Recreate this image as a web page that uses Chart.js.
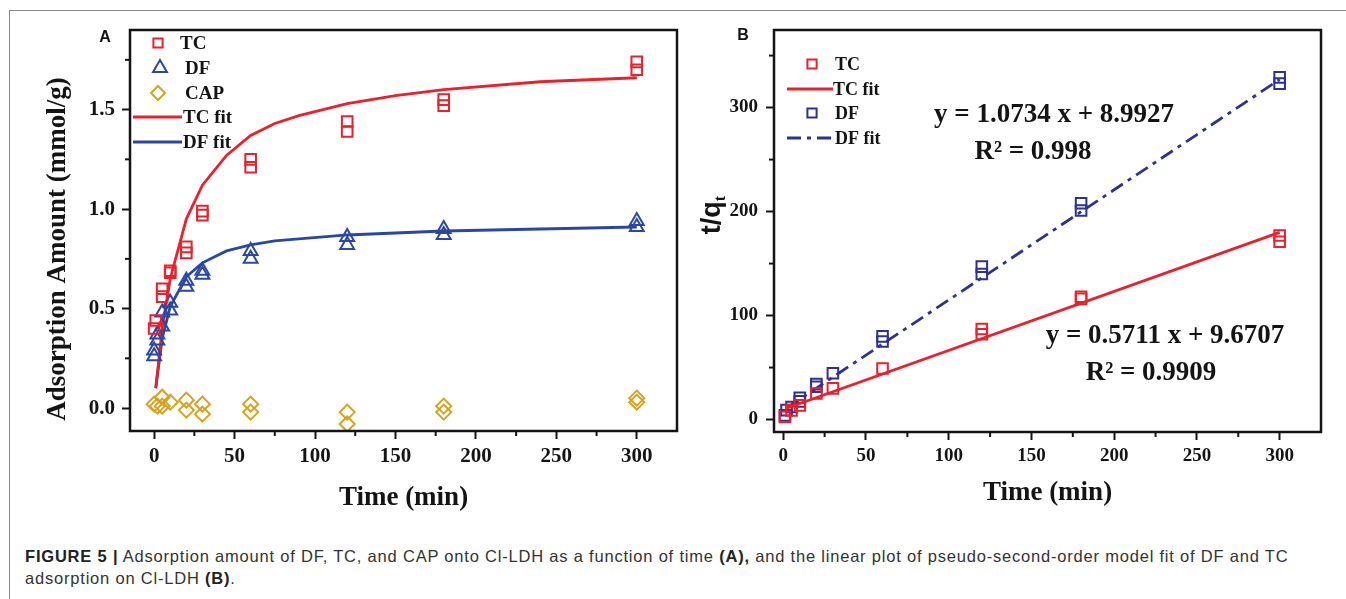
<!DOCTYPE html>
<html><head><meta charset="utf-8">
<script src="https://cdn.jsdelivr.net/npm/chart.js@4.4.1/dist/chart.umd.min.js"></script>
<style>
html,body{margin:0;padding:0;background:#fff;}
body{width:1346px;height:599px;position:relative;overflow:hidden;}
#frame{position:absolute;left:9px;top:10px;width:1400px;height:700px;border-top:1px solid #8a8a8a;border-left:1px solid #8a8a8a;}
#ca{position:absolute;left:0;top:0;}
#cb{position:absolute;left:690px;top:0;}
#cap{position:absolute;left:25px;top:545px;font:16.5px "Liberation Sans",Arial,sans-serif;letter-spacing:0.8px;color:#333;line-height:22px;white-space:nowrap;}
#cap b{color:#222;}
</style></head><body>
<div id="frame"></div>
<canvas id="ca" width="690" height="520"></canvas>
<canvas id="cb" width="656" height="520"></canvas>
<div id="cap"><b>FIGURE 5 |</b> Adsorption amount of DF, TC, and CAP onto Cl-LDH as a function of time <b>(A),</b> and the linear plot of pseudo-second-order model fit of DF and TC<br>adsorption on Cl-LDH <b>(B)</b>.</div>
<script>
// ---------- Panel A data (adsorption amount, mmol/g vs time, min) ----------
const tcTimeA = [0, 1, 5, 5, 10, 10, 20, 20, 30, 30, 60, 60, 120, 120, 180, 180, 300, 300];
const tcQA    = [0.40, 0.44, 0.56, 0.60, 0.68, 0.69, 0.78, 0.81, 0.97, 0.99, 1.21, 1.25, 1.39, 1.44, 1.52, 1.55, 1.70, 1.74];
const dfTimeA = [0, 0, 2, 2, 5, 5, 10, 10, 20, 20, 30, 30, 60, 60, 120, 120, 180, 180, 300, 300];
const dfQA    = [0.26, 0.29, 0.34, 0.37, 0.41, 0.48, 0.49, 0.53, 0.61, 0.64, 0.67, 0.69, 0.75, 0.79, 0.82, 0.86, 0.87, 0.90, 0.91, 0.94];
const capTimeA = [0, 2, 5, 5, 10, 20, 20, 30, 30, 60, 60, 120, 120, 180, 180, 300, 300];
const capQA    = [0.02, 0.01, 0.055, 0.01, 0.03, 0.04, -0.01, 0.02, -0.03, 0.02, -0.02, -0.02, -0.08, 0.01, -0.02, 0.05, 0.03];
const fitTimeA = [1, 5, 10, 20, 30, 45, 60, 75, 90, 120, 150, 180, 240, 300];
const tcFitA   = [0.10, 0.40, 0.65, 0.95, 1.12, 1.27, 1.37, 1.43, 1.47, 1.53, 1.57, 1.60, 1.64, 1.66];
const dfFitA   = [0.10, 0.35, 0.51, 0.66, 0.73, 0.79, 0.82, 0.84, 0.85, 0.87, 0.88, 0.89, 0.90, 0.91];
const xMajorA = [0, 50, 100, 150, 200, 250, 300];
const xMinorA = [25, 75, 125, 175, 225, 275];
const yMajorA = [0, 0.5, 1.0, 1.5];
const yMinorA = [0.25, 0.75, 1.25, 1.75];

// ---------- Panel B data (t/qt vs time) ----------
const tcTimeB = [1, 5, 10, 20, 30, 60, 120, 120, 180, 180, 300, 300];
const tcTQB   = [2.5, 8.8, 13.6, 25, 30, 49, 82, 87, 116, 118, 171, 177];
const dfTimeB = [1, 2, 5, 10, 10, 20, 20, 30, 60, 60, 120, 120, 180, 180, 300, 300];
const dfTQB   = [4, 9, 12, 17.5, 21, 31.5, 34, 44.5, 75, 80, 140, 147, 201, 208, 323, 329];
const fitTimeB = [2, 300];
const tcFitB   = [10.8, 180];
const dfFitB   = [11.1, 327];
const xMajorB = [0, 50, 100, 150, 200, 250, 300];
const xMinorB = [25, 75, 125, 175, 225, 275];
const yMajorB = [0, 100, 200, 300];
const yMinorB = [50, 150, 250, 350];

const labelsA = ['TC', 'DF', 'CAP', 'TC fit', 'DF fit'];
const labelsB = ['TC', 'TC fit', 'DF', 'DF fit'];
const eqB = ['y = 1.0734 x + 8.9927', 'R\u00B2 = 0.998', 'y = 0.5711 x + 9.6707', 'R\u00B2 = 0.9909'];

const RED = '#ec1f2b', BLUE = '#2a47a6', GOLD = '#d9a11c', NAVY = '#2e3192', INK = '#141414';
const SERIF = "'Liberation Serif', 'Times New Roman', serif";
const SANS = "'Liberation Sans', Arial, sans-serif";
const pts = (xs, ys) => xs.map((x, i) => ({x: x, y: ys[i]}));

function shape(ctx, style, x, y, r) {
  ctx.beginPath();
  if (style === 'rect') {
    const s = r * Math.SQRT1_2; ctx.rect(x - s, y - s, 2 * s, 2 * s);
  } else if (style === 'triangle') {
    ctx.moveTo(x, y - r);
    ctx.lineTo(x + r * Math.sin(Math.PI * 2 / 3), y - r * Math.cos(Math.PI * 2 / 3));
    ctx.lineTo(x + r * Math.sin(Math.PI * 4 / 3), y - r * Math.cos(Math.PI * 4 / 3));
    ctx.closePath();
  } else {
    ctx.moveTo(x, y - r); ctx.lineTo(x + r, y); ctx.lineTo(x, y + r); ctx.lineTo(x - r, y); ctx.closePath();
  }
  ctx.stroke();
}

const decor = {
  id: 'decor',
  afterDraw(chart, args, o) {
    const ctx = chart.ctx, a = chart.chartArea, xs = chart.scales.x, ys = chart.scales.y;
    ctx.save();
    ctx.strokeStyle = INK; ctx.lineWidth = 2;
    o.minorX.forEach(v => { const p = xs.getPixelForValue(v); ctx.beginPath(); ctx.moveTo(p, a.bottom); ctx.lineTo(p, a.bottom + 5); ctx.stroke(); });
    o.minorY.forEach(v => { const p = ys.getPixelForValue(v); ctx.beginPath(); ctx.moveTo(a.left, p); ctx.lineTo(a.left - 5, p); ctx.stroke(); });
    ctx.lineWidth = 2.5;
    ctx.strokeRect(a.left, a.top, a.right - a.left, a.bottom - a.top);
    // panel letter
    ctx.fillStyle = INK; ctx.textAlign = 'center'; ctx.textBaseline = 'middle';
    ctx.font = 'bold 16px ' + SANS;
    ctx.fillText(o.letter, o.letterX, o.letterY);
    // y title
    ctx.save();
    ctx.translate(o.yTitle.x, o.yTitle.y); ctx.rotate(-Math.PI / 2);
    if (o.yTitle.sub) {
      ctx.font = o.yTitle.font;
      const w1 = ctx.measureText(o.yTitle.text).width;
      ctx.font = o.yTitle.subFont;
      const w2 = ctx.measureText(o.yTitle.sub).width;
      const x0 = -(w1 + w2) / 2;
      ctx.textAlign = 'left'; ctx.textBaseline = 'alphabetic';
      ctx.font = o.yTitle.font; ctx.fillText(o.yTitle.text, x0, 9);
      ctx.font = o.yTitle.subFont; ctx.fillText(o.yTitle.sub, x0 + w1, 14);
    } else {
      ctx.font = o.yTitle.font; ctx.fillText(o.yTitle.text, 0, 0);
    }
    ctx.restore();
    // legend
    ctx.textAlign = 'left'; ctx.textBaseline = 'middle'; ctx.font = o.legendFont;
    o.legend.forEach(it => {
      const ds = chart.data.datasets[it.ds];
      ctx.strokeStyle = ds.borderColor;
      if (it.kind === 'marker') {
        ctx.lineWidth = 2; ctx.setLineDash([]);
        shape(ctx, ds.pointStyle, it.mx, it.y, it.r);
      } else {
        ctx.lineWidth = ds.borderWidth; ctx.setLineDash(ds.borderDash || []);
        ctx.beginPath(); ctx.moveTo(it.x0, it.y); ctx.lineTo(it.x1, it.y); ctx.stroke();
        ctx.setLineDash([]);
      }
      ctx.fillStyle = INK; ctx.fillText(ds.label, it.tx, it.y + 1);
    });
    // free texts
    (o.texts || []).forEach(t => {
      ctx.font = t.font; ctx.textAlign = 'center'; ctx.fillStyle = INK;
      ctx.fillText(t.text, t.x, t.y);
    });
    ctx.restore();
  }
};

function axisX(major, min, max, tickSize, titlePadBottom, height) {
  return {
    type: 'linear', min: min, max: max,
    afterBuildTicks: s => { s.ticks = major.map(v => ({value: v})); },
    afterFit: s => { s.height = height; },
    ticks: {font: {family: SERIF, weight: 'bold', size: tickSize}, color: INK, padding: 5, autoSkip: false, maxRotation: 0,
            callback: v => String(v)},
    grid: {drawOnChartArea: false, drawTicks: true, tickLength: 8, tickWidth: 2, tickColor: INK},
    border: {display: false},
    title: {display: true, text: 'Time (min)', color: INK, font: {family: SERIF, weight: 'bold', size: 27}, padding: {top: 0, bottom: titlePadBottom}}
  };
}
function axisY(major, min, max, tickSize, fmt, width, pad) {
  return {
    type: 'linear', min: min, max: max,
    afterBuildTicks: s => { s.ticks = major.map(v => ({value: v})); },
    afterFit: s => { s.width = width; },
    ticks: {font: {family: SERIF, weight: 'bold', size: tickSize}, color: INK, padding: pad, autoSkip: false, callback: fmt},
    grid: {drawOnChartArea: false, drawTicks: true, tickLength: 8, tickWidth: 2, tickColor: INK},
    border: {display: false}
  };
}

// ---------- Chart A ----------
new Chart(document.getElementById('ca'), {
  type: 'scatter',
  data: {datasets: [
    {label: labelsA[0], data: pts(tcTimeA, tcQA), pointStyle: 'rect', pointRadius: 7.5, pointBorderWidth: 2, borderColor: RED, backgroundColor: 'rgba(0,0,0,0)', showLine: false},
    {label: labelsA[1], data: pts(dfTimeA, dfQA), pointStyle: 'triangle', pointRadius: 8, pointBorderWidth: 2, borderColor: BLUE, backgroundColor: 'rgba(0,0,0,0)', showLine: false},
    {label: labelsA[2], data: pts(capTimeA, capQA), pointStyle: 'rectRot', pointRadius: 7.5, pointBorderWidth: 2, borderColor: GOLD, backgroundColor: 'rgba(0,0,0,0)', showLine: false},
    {label: labelsA[3], data: pts(fitTimeA, tcFitA), showLine: true, pointRadius: 0, borderColor: RED, borderWidth: 2.8, tension: 0},
    {label: labelsA[4], data: pts(fitTimeA, dfFitA), showLine: true, pointRadius: 0, borderColor: BLUE, borderWidth: 2.8, tension: 0}
  ]},
  options: {
    responsive: false, animation: false, devicePixelRatio: 1,
    layout: {padding: {top: 30, right: 13, left: 0, bottom: 0}},
    plugins: {legend: {display: false}, tooltip: {enabled: false},
      decor: {
        letter: 'A', letterX: 105, letterY: 38,
        minorX: xMinorA, minorY: yMinorA,
        yTitle: {text: 'Adsorption Amount (mmol/g)', x: 58, y: 249, font: 'bold 27px ' + SERIF},
        legendFont: 'bold 19px ' + SERIF,
        legend: [
          {ds: 0, kind: 'marker', mx: 158, r: 6.5, y: 43, tx: 180},
          {ds: 1, kind: 'marker', mx: 160, r: 8, y: 68, tx: 185},
          {ds: 2, kind: 'marker', mx: 158, r: 7, y: 93, tx: 185},
          {ds: 3, kind: 'line', x0: 133, x1: 182, y: 117, tx: 183},
          {ds: 4, kind: 'line', x0: 133, x1: 182, y: 142, tx: 183}
        ]
      }
    },
    scales: {
      x: axisX(xMajorA, -15, 325, 21, 6, 89),
      y: axisY(yMajorA, -0.115, 1.9, 21, v => v.toFixed(1), 130, 7)
    }
  },
  plugins: [decor]
});

// ---------- Chart B ----------
new Chart(document.getElementById('cb'), {
  type: 'scatter',
  data: {datasets: [
    {label: labelsB[0], data: pts(tcTimeB, tcTQB), pointStyle: 'rect', pointRadius: 7.5, pointBorderWidth: 2, borderColor: RED, backgroundColor: 'rgba(0,0,0,0)', showLine: false},
    {label: labelsB[1], data: pts(fitTimeB, tcFitB), showLine: true, pointRadius: 0, borderColor: RED, borderWidth: 2.8, tension: 0},
    {label: labelsB[2], data: pts(dfTimeB, dfTQB), pointStyle: 'rect', pointRadius: 7.5, pointBorderWidth: 2, borderColor: NAVY, backgroundColor: 'rgba(0,0,0,0)', showLine: false},
    {label: labelsB[3], data: pts(fitTimeB, dfFitB), showLine: true, pointRadius: 0, borderColor: NAVY, borderWidth: 2.8, borderDash: [14, 6, 4, 6], tension: 0}
  ]},
  options: {
    responsive: false, animation: false, devicePixelRatio: 1,
    layout: {padding: {top: 30, right: 25, left: 0, bottom: 0}},
    plugins: {legend: {display: false}, tooltip: {enabled: false},
      decor: {
        letter: 'B', letterX: 53, letterY: 36,
        minorX: xMinorB, minorY: yMinorB,
        yTitle: {text: 't/q', sub: 't', x: 21, y: 215, font: 'bold 27px ' + SANS, subFont: 'bold 16px ' + SERIF},
        legendFont: 'bold 18px ' + SERIF,
        legend: [
          {ds: 0, kind: 'marker', mx: 122, r: 6.5, y: 64, tx: 145},
          {ds: 1, kind: 'line', x0: 97, x1: 143, y: 89, tx: 143},
          {ds: 2, kind: 'marker', mx: 122, r: 6.5, y: 113, tx: 145},
          {ds: 3, kind: 'line', x0: 97, x1: 143, y: 138, tx: 145}
        ],
        texts: [
          {text: eqB[0], x: 364, y: 115, font: 'bold 27px ' + SERIF},
          {text: eqB[1], x: 343, y: 152, font: 'bold 27px ' + SERIF},
          {text: eqB[2], x: 475, y: 336, font: 'bold 27px ' + SERIF},
          {text: eqB[3], x: 461, y: 373, font: 'bold 27px ' + SERIF}
        ]
      }
    },
    scales: {
      x: axisX(xMajorB, -5.6, 325, 19, 11, 88),
      y: axisY(yMajorB, -12, 374.6, 19, v => String(v), 84, 8)
    }
  },
  plugins: [decor]
});
</script>
</body></html>
